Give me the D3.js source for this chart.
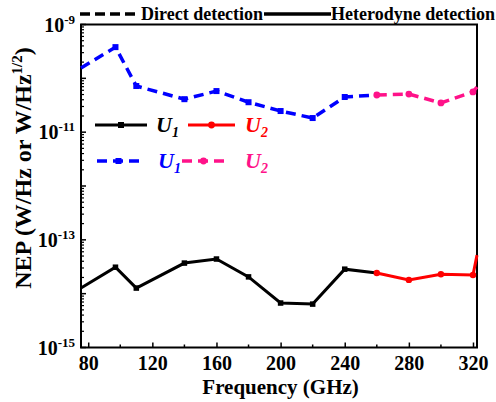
<!DOCTYPE html>
<meta charset="utf-8">
<html>
<head>
    <script src="https://d3js.org/d3.v7.js"></script>
    <style>
        body { margin: 0; background: white; }
        text { font-family: "Liberation Serif", "Times New Roman", serif; font-weight: bold; }
    </style>
</head>
<body>
    <script>

        // heterodyne detection (solid)
        const hetU1Freq = [75.5, 97, 110, 140, 160, 180, 200, 220, 240];
        const hetU1Nep = [1.27e-14, 3.1e-14, 1.27e-14, 3.7e-14, 4.4e-14, 2.05e-14, 6.7e-15, 6.4e-15, 2.85e-14];
        const hetU2Freq = [260, 280, 300, 320, 322.5];
        const hetU2Nep = [2.42e-14, 1.8e-14, 2.3e-14, 2.22e-14, 5.2e-14];

        // direct detection (dashed)
        const dirU1Freq = [75.5, 97, 110, 140, 160, 180, 200, 220, 240];
        const dirU1Nep = [1.56e-10, 3.8e-10, 7.2e-11, 4.1e-11, 5.8e-11, 3.6e-11, 2.47e-11, 1.83e-11, 4.5e-11];
        const dirU2Freq = [260, 280, 300, 320, 322.5];
        const dirU2Nep = [4.9e-11, 5.1e-11, 3.5e-11, 5.6e-11, 6.9e-11];

        const xTicks = [80, 120, 160, 200, 240, 280, 320];
        const xMinor = [100, 140, 180, 220, 260, 300];
        const yLabelExp = [-9, -11, -13, -15];

        const width = 496, height = 402;
        const margin = { top: 24.5, right: 19, bottom: 54.5, left: 81 };

        const svg = d3.select('body').append('svg')
            .attr('width', width)
            .attr('height', height);

        const x = d3.scaleLinear()
            .domain([75.5, 322.5])
            .range([margin.left, width - margin.right]);

        const y = d3.scaleLog()
            .domain([1e-15, 1e-9])
            .range([height - margin.bottom, margin.top]);

        // bottom axis, ticks inside
        const xAxis = svg.append('g')
            .attr('transform', `translate(0,${height - margin.bottom})`)
            .call(d3.axisBottom(x).tickValues(xTicks).tickSize(-5).tickPadding(8).tickFormat(d3.format('d')));
        xAxis.select('.domain').remove();
        xAxis.attr('font-family', null).attr('font-size', null);
        xAxis.selectAll('line').attr('stroke', 'black').attr('stroke-width', 1.5);
        xAxis.selectAll('text').style('font-size', '20px').attr('fill', 'black');

        svg.append('g').selectAll('line')
            .data(xMinor)
            .join('line')
            .attr('x1', d => x(d)).attr('x2', d => x(d))
            .attr('y1', height - margin.bottom).attr('y2', height - margin.bottom - 3)
            .attr('stroke', 'black').attr('stroke-width', 1.5);

        // left axis, major ticks each decade, minor ticks in between
        const yMinor = [];
        for (let e = -15; e < -9; e++) {
            for (let m = 2; m <= 9; m++) yMinor.push(m * Math.pow(10, e));
        }
        const yMajor = d3.range(-15, -8).map(e => Math.pow(10, e));

        svg.append('g').selectAll('line')
            .data(yMajor)
            .join('line')
            .attr('x1', margin.left).attr('x2', margin.left + 5)
            .attr('y1', d => y(d)).attr('y2', d => y(d))
            .attr('stroke', 'black').attr('stroke-width', 1.5);

        svg.append('g').selectAll('line')
            .data(yMinor)
            .join('line')
            .attr('x1', margin.left).attr('x2', margin.left + 3)
            .attr('y1', d => y(d)).attr('y2', d => y(d))
            .attr('stroke', 'black').attr('stroke-width', 1.2);

        const yLab = svg.append('g').selectAll('text')
            .data(yLabelExp)
            .join('text')
            .attr('x', margin.left - 6)
            .attr('y', d => y(Math.pow(10, d)) + 7)
            .attr('text-anchor', 'end')
            .style('font-size', '20px');
        yLab.append('tspan').text('10');
        yLab.append('tspan').attr('dy', -8).style('font-size', '13px').text(d => d);

        // frame
        svg.append('rect')
            .attr('x', margin.left).attr('y', margin.top)
            .attr('width', width - margin.left - margin.right)
            .attr('height', height - margin.top - margin.bottom)
            .attr('fill', 'none').attr('stroke', 'black').attr('stroke-width', 2);

        // axis titles
        svg.append('text')
            .attr('x', x(200)).attr('y', 394)
            .attr('text-anchor', 'middle')
            .style('font-size', '21px')
            .text('Frequency (GHz)');

        const yTitle = svg.append('text')
            .attr('transform', 'translate(31,168) rotate(-90)')
            .attr('text-anchor', 'middle')
            .style('font-size', '24px');
        yTitle.append('tspan').text('NEP (W/Hz or W/Hz');
        yTitle.append('tspan').attr('dy', -9).style('font-size', '15px').text('1/2');
        yTitle.append('tspan').attr('dy', 9).text(')');

        const line = d3.line().x(d => x(d[0])).y(d => y(d[1]));
        const zip = (a, b) => a.map((v, i) => [v, b[i]]);

        const hetU1 = zip(hetU1Freq, hetU1Nep);
        const hetU2 = zip(hetU2Freq, hetU2Nep);
        const dirU1 = zip(dirU1Freq, dirU1Nep);
        const dirU2 = zip(dirU2Freq, dirU2Nep);

        const plot = svg.append('g');
        const dash = '10,6';

        function drawSeries(pts, color, dashed, sw) {
            plot.append('path')
                .datum(pts)
                .attr('d', line)
                .attr('fill', 'none')
                .attr('stroke', color)
                .attr('stroke-width', sw)
                .attr('stroke-dasharray', dashed ? dash : null);
        }

        drawSeries(hetU1.concat([hetU2[0]]), 'black', false, 3);
        drawSeries(hetU2, '#ff0000', false, 3);
        drawSeries(dirU1.concat([dirU2[0]]), '#0000ff', true, 3.5);
        drawSeries(dirU2, '#ff1289', true, 3.5);

        function squares(pts, color, s) {
            plot.append('g').selectAll('rect')
                .data(pts.filter(d => d[0] > 76))
                .join('rect')
                .attr('x', d => x(d[0]) - s / 2).attr('y', d => y(d[1]) - s / 2)
                .attr('width', s).attr('height', s)
                .attr('fill', color);
        }
        function circles(pts, color, r) {
            plot.append('g').selectAll('circle')
                .data(pts.filter(d => d[0] < 321))
                .join('circle')
                .attr('cx', d => x(d[0])).attr('cy', d => y(d[1]))
                .attr('r', r)
                .attr('fill', color);
        }
        squares(hetU1, 'black', 5.5);
        circles(hetU2, '#ff0000', 3.2);
        squares(dirU1, '#0000ff', 6);
        circles(dirU2, '#ff1289', 3.4);

        // top legend
        const legendY = 14;
        svg.append('line').attr('x1', 80).attr('x2', 138).attr('y1', legendY).attr('y2', legendY)
            .attr('stroke', 'black').attr('stroke-width', 3.5).attr('stroke-dasharray', '10,5');
        svg.append('text').attr('x', 141).attr('y', legendY + 6).style('font-size', '18px').text('Direct detection');
        svg.append('line').attr('x1', 264).attr('x2', 331).attr('y1', legendY).attr('y2', legendY)
            .attr('stroke', 'black').attr('stroke-width', 3.5);
        svg.append('text').attr('x', 331).attr('y', legendY + 6).style('font-size', '18px').text('Heterodyne detection');

        // inner legend
        const legendRows = [
            { y: 125, items: [
                { x1: 95, x2: 147, color: 'black', dashed: false, marker: 'square', lx: 156, label: '1' },
                { x1: 188, x2: 235, color: '#ff0000', dashed: false, marker: 'circle', lx: 245, label: '2' }
            ] },
            { y: 161, items: [
                { x1: 97, x2: 140, color: '#0000ff', dashed: true, marker: 'square', lx: 158, label: '1' },
                { x1: 182, x2: 225, color: '#ff1289', dashed: true, marker: 'circle', lx: 245, label: '2' }
            ] }
        ];
        const leg = svg.append('g');
        legendRows.forEach(row => {
            row.items.forEach(it => {
                leg.append('line')
                    .attr('x1', it.x1).attr('x2', it.x2).attr('y1', row.y).attr('y2', row.y)
                    .attr('stroke', it.color).attr('stroke-width', it.dashed ? 3.5 : 3)
                    .attr('stroke-dasharray', it.dashed ? dash : null);
                const cx = (it.x1 + it.x2) / 2;
                if (it.marker === 'square') {
                    leg.append('rect').attr('x', cx - 3).attr('y', row.y - 3)
                        .attr('width', 6).attr('height', 6).attr('fill', it.color);
                } else {
                    leg.append('circle').attr('cx', cx).attr('cy', row.y).attr('r', 3.4).attr('fill', it.color);
                }
                const t = leg.append('text')
                    .attr('x', it.lx).attr('y', row.y + 7)
                    .attr('fill', it.color)
                    .style('font-size', '22px').style('font-style', 'italic');
                t.append('tspan').text('U');
                t.append('tspan').attr('dy', 5).style('font-size', '14px').text(it.label);
            });
        });

    </script>
</body>
</html>
